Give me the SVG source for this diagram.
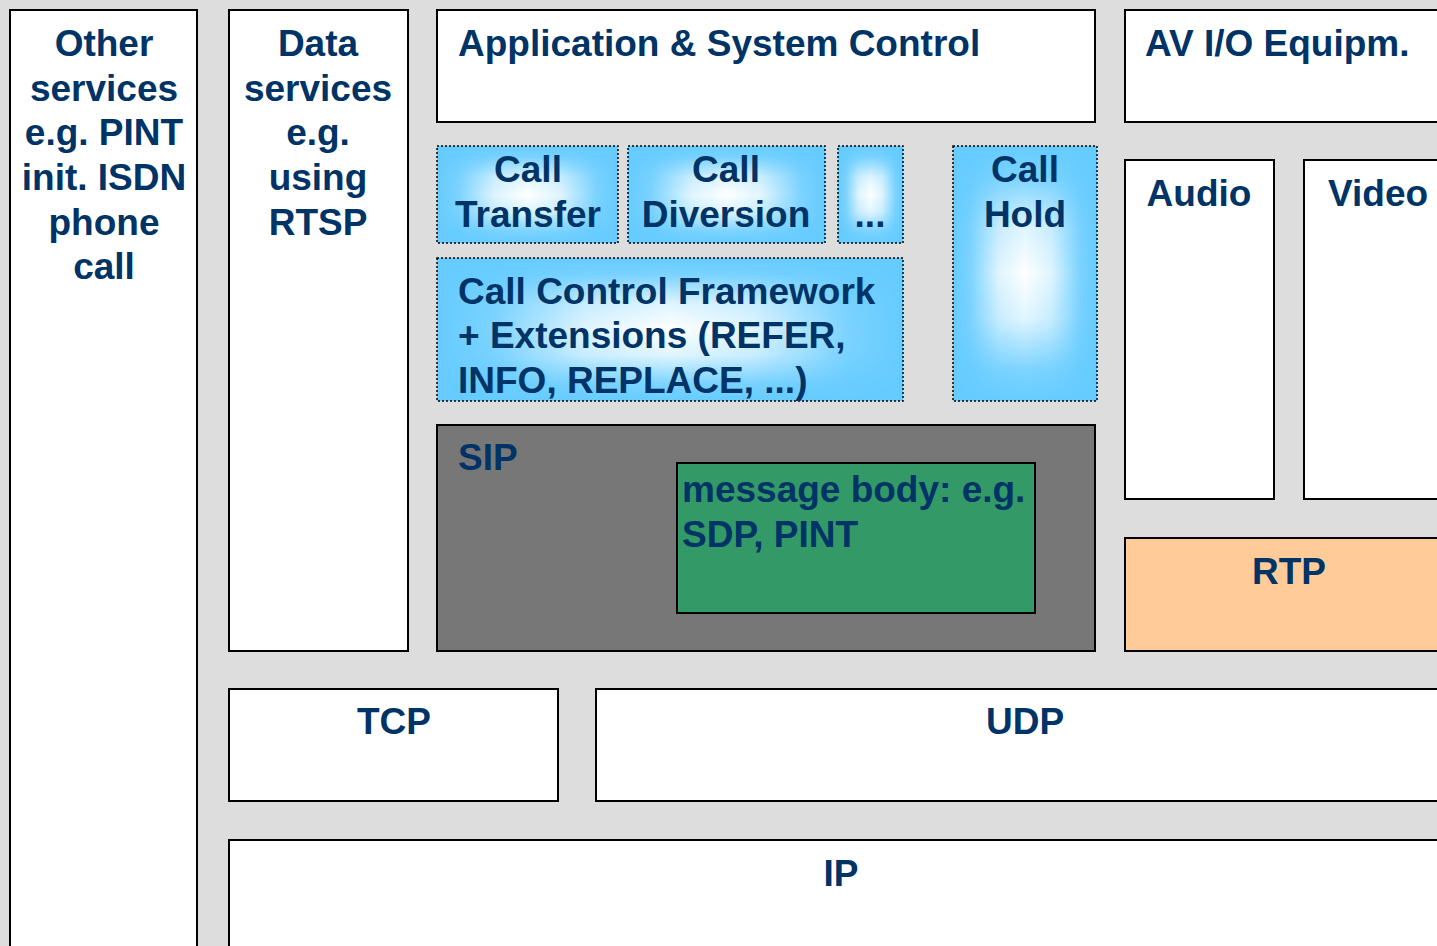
<svg xmlns="http://www.w3.org/2000/svg" width="1437" height="946" viewBox="0 0 1437 946">
  <style>
    .box { stroke: #000; stroke-width: 2; }
    .plain { fill: #fff; }
    .base { fill: #66ccff; }
    .sheen { fill: url(#sheenH); mask: url(#sheenMask); }
    .dots { fill: none; stroke: #000; stroke-width: 1.5; stroke-dasharray: 2 2; }
    text { font-family: "Liberation Sans", Arial, sans-serif; font-weight: bold; font-size: 37px; fill: #003366; }
    .c { text-anchor: middle; }
  </style>
  <defs>
    <!-- white highlight that fades toward all four edges (rectangular glow) -->
    <linearGradient id="sheenH" x1="0" y1="0" x2="1" y2="0">
      <stop offset="0" stop-color="#fff" stop-opacity="0"/>
      <stop offset="0.12" stop-color="#fff" stop-opacity="0.15"/>
      <stop offset="0.32" stop-color="#fff" stop-opacity="0.8"/>
      <stop offset="0.5" stop-color="#fff" stop-opacity="1"/>
      <stop offset="0.68" stop-color="#fff" stop-opacity="0.8"/>
      <stop offset="0.88" stop-color="#fff" stop-opacity="0.15"/>
      <stop offset="1" stop-color="#fff" stop-opacity="0"/>
    </linearGradient>
    <linearGradient id="sheenV" x1="0" y1="0" x2="0" y2="1">
      <stop offset="0" stop-color="#000"/>
      <stop offset="0.12" stop-color="#262626"/>
      <stop offset="0.32" stop-color="#ccc"/>
      <stop offset="0.5" stop-color="#fff"/>
      <stop offset="0.68" stop-color="#ccc"/>
      <stop offset="0.88" stop-color="#262626"/>
      <stop offset="1" stop-color="#000"/>
    </linearGradient>
    <mask id="sheenMask" maskContentUnits="objectBoundingBox">
      <rect x="0" y="0" width="1" height="1" fill="url(#sheenV)"/>
    </mask>
  </defs>

  <rect width="1437" height="946" fill="#dddddd"/>

  <g id="other">
    <rect class="box plain" x="10" y="10" width="187" height="950"/>
    <text class="c" x="104" y="56">Other</text>
    <text class="c" x="104" y="101">services</text>
    <text class="c" x="104" y="145">e.g. PINT</text>
    <text class="c" x="104" y="190">init. ISDN</text>
    <text class="c" x="104" y="235">phone</text>
    <text class="c" x="104" y="279">call</text>
  </g>

  <g id="data">
    <rect class="box plain" x="229" y="10" width="179" height="641"/>
    <text class="c" x="318" y="56">Data</text>
    <text class="c" x="318" y="101">services</text>
    <text class="c" x="318" y="145">e.g.</text>
    <text class="c" x="318" y="190">using</text>
    <text class="c" x="318" y="235">RTSP</text>
  </g>

  <g id="app">
    <rect class="box plain" x="437" y="10" width="658" height="112"/>
    <text x="458" y="56">Application &amp; System Control</text>
  </g>

  <g id="av">
    <rect class="box plain" x="1125" y="10" width="330" height="112"/>
    <text x="1145" y="56">AV I/O Equipm.</text>
  </g>

  <g id="transfer">
    <rect class="base" x="437" y="146" width="181" height="97"/>
    <rect class="sheen" x="437" y="146" width="181" height="97"/>
    <rect class="dots" x="437" y="146" width="181" height="97"/>
    <text class="c" x="528" y="182">Call</text>
    <text class="c" x="528" y="227">Transfer</text>
  </g>

  <g id="diversion">
    <rect class="base" x="628" y="146" width="197" height="97"/>
    <rect class="sheen" x="628" y="146" width="197" height="97"/>
    <rect class="dots" x="628" y="146" width="197" height="97"/>
    <text class="c" x="726" y="182">Call</text>
    <text class="c" x="726" y="227">Diversion</text>
  </g>

  <g id="more">
    <rect class="base" x="838" y="146" width="65" height="97"/>
    <rect class="sheen" x="838" y="146" width="65" height="97"/>
    <rect class="dots" x="838" y="146" width="65" height="97"/>
    <text class="c" x="870" y="227">...</text>
  </g>

  <g id="hold">
    <rect class="base" x="953" y="146" width="144" height="255"/>
    <rect class="sheen" x="953" y="146" width="144" height="255"/>
    <rect class="dots" x="953" y="146" width="144" height="255"/>
    <text class="c" x="1025" y="182">Call</text>
    <text class="c" x="1025" y="227">Hold</text>
  </g>

  <g id="framework">
    <rect class="base" x="437" y="258" width="466" height="143"/>
    <rect class="sheen" x="437" y="258" width="466" height="143"/>
    <rect class="dots" x="437" y="258" width="466" height="143"/>
    <text x="458" y="304">Call Control Framework</text>
    <text x="458" y="348">+ Extensions (REFER,</text>
    <text x="458" y="393">INFO, REPLACE, ...)</text>
  </g>

  <g id="sip">
    <rect class="box" fill="#777777" x="437" y="425" width="658" height="226"/>
    <text x="458" y="470">SIP</text>
  </g>

  <g id="body">
    <rect class="box" fill="#339966" x="677" y="463" width="358" height="150"/>
    <text x="682" y="502">message body: e.g.</text>
    <text x="682" y="547">SDP, PINT</text>
  </g>

  <g id="audio">
    <rect class="box plain" x="1125" y="160" width="149" height="339"/>
    <text class="c" x="1199" y="206">Audio</text>
  </g>

  <g id="video">
    <rect class="box plain" x="1304" y="160" width="150" height="339"/>
    <text x="1328" y="206">Video</text>
  </g>

  <g id="rtp">
    <rect class="box" fill="#ffcc99" x="1125" y="538" width="330" height="113"/>
    <text class="c" x="1289" y="584">RTP</text>
  </g>

  <g id="tcp">
    <rect class="box plain" x="229" y="689" width="329" height="112"/>
    <text class="c" x="394" y="734">TCP</text>
  </g>

  <g id="udp">
    <rect class="box plain" x="596" y="689" width="860" height="112"/>
    <text class="c" x="1025" y="734">UDP</text>
  </g>

  <g id="ip">
    <rect class="box plain" x="229" y="840" width="1230" height="130"/>
    <text class="c" x="841" y="886">IP</text>
  </g>

  <g id="connectors"></g>
</svg>
